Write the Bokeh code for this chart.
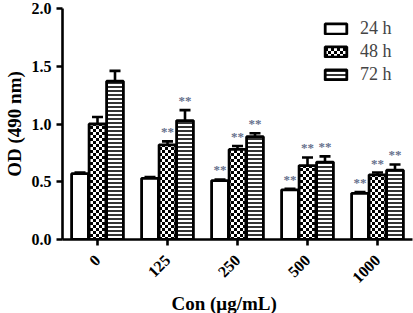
import math, zlib, struct, base64
from bokeh.plotting import figure
from bokeh.models import (ColumnDataSource, Range1d, FixedTicker, Whisker, TeeHead,
                          Legend, LegendItem, ImageURLTexture, CustomJSTickFormatter, Title)
from bokeh.core.properties import value
from bokeh.embed import file_html
from bokeh.resources import INLINE

categories = ["0", "125", "250", "500", "1000"]
series = ["24 h", "48 h", "72 h"]
od_24h = [0.57, 0.53, 0.51, 0.43, 0.40]
err_24h = [0.01, 0.01, 0.01, 0.01, 0.01]
od_48h = [1.00, 0.82, 0.78, 0.64, 0.56]
err_48h = [0.06, 0.03, 0.03, 0.07, 0.02]
od_72h = [1.37, 1.03, 0.89, 0.67, 0.60]
err_72h = [0.09, 0.09, 0.03, 0.05, 0.05]
sig_24h = ["", "", "**", "**", "**"]
sig_48h = ["", "**", "**", "**", "**"]
sig_72h = ["", "**", "**", "**", "**"]

SERIF = "Liberation Serif"


def checker_png(cell=3):
    n = cell * 2
    rows = b""
    for yy in range(n):
        row = b"\x00"
        for xx in range(n):
            black = ((xx // cell) + (yy // cell)) % 2 == 0
            row += b"\x00" if black else b"\xff"
        rows += row
    def chunk(t, d):
        c = struct.pack(">I", len(d)) + t + d
        return c + struct.pack(">I", zlib.crc32(t + d) & 0xffffffff)
    png = b"\x89PNG\r\n\x1a\n"
    png += chunk(b"IHDR", struct.pack(">IIBBBBB", n, n, 8, 0, 0, 0, 0))
    png += chunk(b"IDAT", zlib.compress(rows))
    png += chunk(b"IEND", b"")
    return "data:image/png;base64," + base64.b64encode(png).decode()


p = figure(width=413, height=313, output_backend="svg", toolbar_location=None,
           x_range=Range1d(-0.5, 4.5), y_range=Range1d(0, 2.0),
           min_border_top=8, min_border_right=1, min_border_left=0, min_border_bottom=0)
p.outline_line_color = None
p.xgrid.visible = False
p.ygrid.visible = False
p.background_fill_color = "white"
p.border_fill_color = "white"

checker = ImageURLTexture(url=checker_png(3), repetition="repeat")

offsets = [-0.25, 0.0, 0.25]
vals = [od_24h, od_48h, od_72h]
errs = [err_24h, err_48h, err_72h]
sigs = [sig_24h, sig_48h, sig_72h]
styles = [dict(),
          dict(hatch_pattern=value("checker"), hatch_extra={"checker": checker}),
          dict(hatch_pattern="horizontal_line", hatch_scale=4, hatch_weight=1.6, hatch_color="black")]

items = []
for i in range(3):
    xs = [k + offsets[i] for k in range(len(categories))]
    src = ColumnDataSource(dict(x=xs, top=vals[i],
                                upper=[v + e for v, e in zip(vals[i], errs[i])],
                                sig=sigs[i]))
    r = p.vbar(x="x", top="top", width=0.24, source=src, fill_color="white",
               line_color="black", line_width=2.8, **styles[i])
    w = Whisker(base="x", upper="upper", lower="top", source=src, dimension="height",
                line_width=2.6, line_color="black",
                upper_head=TeeHead(size=11, line_width=2.6, line_color="black"),
                lower_head=None)
    p.add_layout(w)
    p.text(x="x", y="upper", text="sig", source=src, text_align="center",
           text_baseline="bottom", y_offset=-2, text_color="#66708c",
           text_font=value(SERIF), text_font_size="13px", text_font_style="bold")
    items.append(LegendItem(label=series[i], renderers=[r]))

legend = Legend(items=items, location=(260, 154), border_line_color=None,
                background_fill_alpha=0, padding=0, margin=0, spacing=2,
                glyph_width=27, glyph_height=13, label_height=19,
                label_text_font=SERIF, label_text_font_size="18px",
                label_standoff=11)
p.add_layout(legend)

p.xaxis.ticker = FixedTicker(ticks=list(range(len(categories))))
p.xaxis.major_label_overrides = {k: c for k, c in enumerate(categories)}
p.xaxis.major_label_orientation = math.pi / 4
p.yaxis.ticker = FixedTicker(ticks=[0.0, 0.5, 1.0, 1.5, 2.0])
p.yaxis.formatter = CustomJSTickFormatter(code="return tick.toFixed(1);")

for ax in (p.xaxis[0], p.yaxis[0]):
    ax.axis_line_width = 2.6
    ax.axis_line_color = "black"
    ax.major_tick_line_width = 2.6
    ax.major_tick_line_color = "black"
    ax.major_tick_in = 0
    ax.major_tick_out = 6
    ax.minor_tick_line_color = None
    ax.major_label_text_font = SERIF
    ax.major_label_text_font_style = "bold"
    ax.major_label_text_font_size = "16px"
    ax.major_label_text_color = "black"
    ax.axis_label_text_font = SERIF
    ax.axis_label_text_font_style = "bold"
    ax.axis_label_text_font_size = "19px"
    ax.axis_label_text_color = "black"

p.yaxis.axis_label = "OD (490 nm)"
p.yaxis.axis_label_text_line_height = 0.8
p.xaxis.major_label_standoff = 12
p.yaxis.major_label_standoff = 5
p.yaxis.axis_label_standoff = 4

xlabel = Title(text="Con (μg/mL)", align="left", offset=109, standoff=0,
               text_font=SERIF, text_font_style="bold", text_font_size="19px",
               text_color="black", text_line_height=0.8)
p.add_layout(xlabel, "below")

open("out.html", "w").write(file_html(p, INLINE))
